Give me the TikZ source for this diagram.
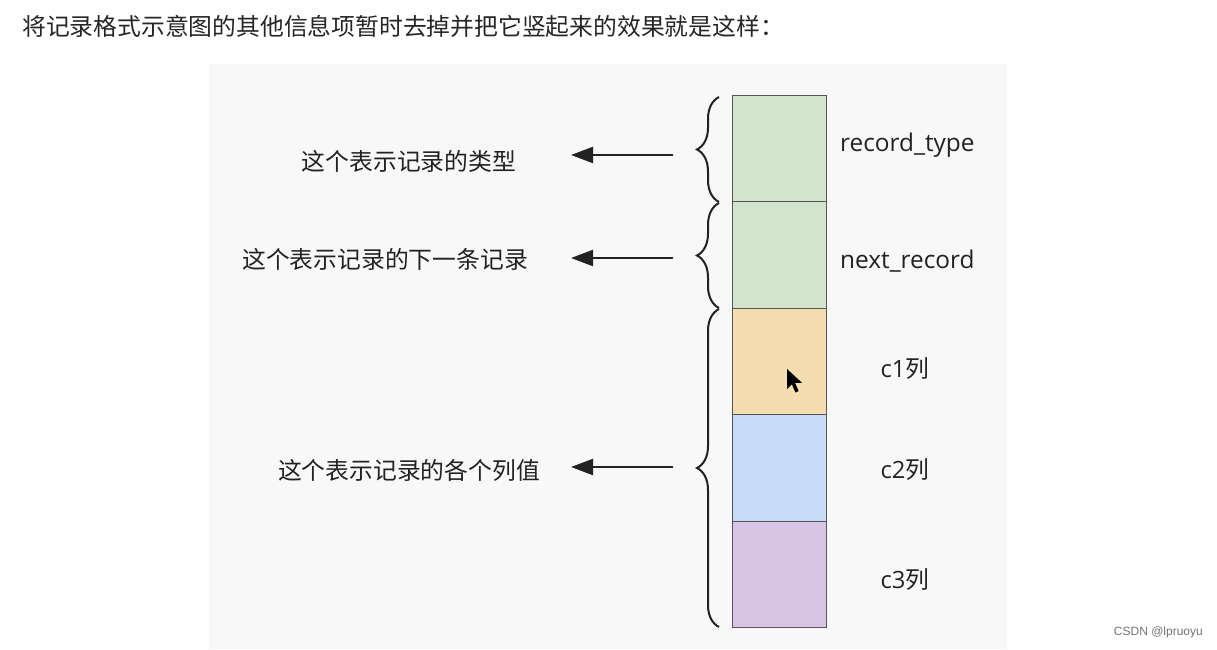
\documentclass[tikz,border=0pt]{standalone}
\usepackage{fontspec}
\setmainfont{Open Sans}
\newfontfamily\cjk{Noto Sans CJK SC}
\usetikzlibrary{arrows.meta,decorations.pathreplacing}
\definecolor{panelbg}{HTML}{F8F8F8}
\definecolor{cgreen}{HTML}{D2E4CE}
\definecolor{corange}{HTML}{F4DDAE}
\definecolor{cblue}{HTML}{C7DCF6}
\definecolor{cpurple}{HTML}{D8C4E4}
\definecolor{cellline}{HTML}{555555}
\definecolor{inkc}{HTML}{222222}
\tikzset{
  cell/.style={draw=cellline, line width=0.9pt, minimum width=94pt, minimum height=106.4pt, inner sep=0pt, anchor=north west},
  cnlabel/.style={font=\cjk\fontsize{23.8}{28}\selectfont, text=inkc, inner sep=0pt},
  enlabel/.style={font=\fontsize{24.4}{28}\selectfont, text=inkc, inner sep=0pt},
  bracel/.style={draw=inkc, line width=2pt, decorate, decoration={brace, amplitude=22pt, mirror}},
  pointer/.style={draw=inkc, line width=2.2pt, -{Triangle[length=22pt,width=16pt]}},
}
\begin{document}
\begin{tikzpicture}[x=1pt,y=-1pt]
\useasboundingbox (0,0) rectangle (1217,649);
\fill[white] (0,0) rectangle (1217,649);
\fill[panelbg] (209,64) rectangle (1007,649);
% title
\node[cnlabel, anchor=west, text=black!85] (title) at (22,26) {将记录格式示意图的其他信息项暂时去掉并把它竖起来的效果就是这样：};
% cells
\node[cell, fill=cgreen] (r1) at (732,95) {};
\node[cell, fill=cgreen] (r2) at (732,201.4) {};
\node[cell, fill=corange] (r3) at (732,307.8) {};
\node[cell, fill=cblue] (r4) at (732,414.2) {};
\node[cell, fill=cpurple] (r5) at (732,520.6) {};
% right labels
\node[enlabel, anchor=west] (t1) at (840,145) {record\_type};
\node[enlabel, anchor=west] (t2) at (840,261) {next\_record};
\node[cnlabel] (t3) at (905,369) {{\fontspec{Open Sans}c1}列};
\node[cnlabel] (t4) at (905,470) {{\fontspec{Open Sans}c2}列};
\node[cnlabel] (t5) at (905,580) {{\fontspec{Open Sans}c3}列};
% braces
\coordinate (b1t) at (719,97);
\coordinate (b1b) at (719,202);
\coordinate (b2t) at (719,203);
\coordinate (b2b) at (719,308);
\coordinate (b3t) at (719,309);
\coordinate (b3b) at (719,627);
\draw[bracel] (b1t) -- (b1b);
\draw[bracel] (b2t) -- (b2b);
\draw[bracel] (b3t) -- (b3b);
% arrows
\coordinate (a1) at (673,155);
\coordinate (a2) at (673,258);
\coordinate (a3) at (673,467);
\coordinate (e1) at (571,155);
\coordinate (e2) at (571,258);
\coordinate (e3) at (571,467);
\draw[pointer] (a1) -- (e1);
\draw[pointer] (a2) -- (e2);
\draw[pointer] (a3) -- (e3);
% left labels
\node[cnlabel] (l1) at (409,161) {这个表示记录的类型};
\node[cnlabel] (l2) at (385,259) {这个表示记录的下一条记录};
\node[cnlabel] (l3) at (409,470) {这个表示记录的各个列值};
% mouse cursor
\fill[black] (787,369) -- (787,389) -- (791.8,384.2) -- (795.4,392.5) -- (798.6,391) -- (795,382.8) -- (802,382.8) -- cycle;
% watermark
\node[font=\fontspec{Liberation Sans}\fontsize{12}{14}\selectfont, text=black!55, anchor=east, inner sep=0pt] (wm) at (1203,632) {CSDN @lpruoyu};
\end{tikzpicture}
\end{document}
